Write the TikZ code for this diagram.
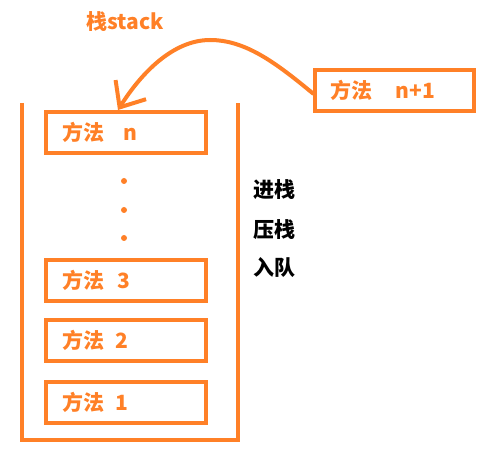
\documentclass[tikz,border=0pt]{standalone}
\usepackage{fontspec}
\setmainfont{Noto Sans CJK SC}
\usetikzlibrary{arrows.meta, positioning}
\definecolor{stackorange}{RGB}{255,128,39}

\begin{document}
\begin{tikzpicture}[
    x=1pt, y=-1pt,
    frame/.style={draw=stackorange, line width=4pt},
    method/.style={frame, minimum width=160pt, minimum height=41pt,
                   text width=128pt, inner xsep=16pt, align=left,
                   text=stackorange, font=\fontsize{21}{24}\selectfont\bfseries},
    dotmark/.style={circle, fill=stackorange, inner sep=0pt, minimum size=6pt},
    note/.style={font=\fontsize{21}{24}\selectfont\bfseries, anchor=west},
    node distance=16pt
  ]
  \useasboundingbox (0,0) rectangle (490,449);
  % the stack
  \draw[frame] (21.5,103) |- (238,440) -- (238,103);
  \node[method] (m1) at (126,402.5) {方法\hspace{12pt}1};
  \node[method, above=17pt of m1] (m2) {方法\hspace{12pt}2};
  \node[method, above=15pt of m2] (m3) {方法\hspace{14pt}3};
  \node[method] (mn) at (126,132.5) {方法\hspace{20pt}n};
  \foreach \y [count=\i] in {181,210,238}
    \node[dotmark] (d\i) at (124,\y) {};

  % pushed method
  \node[method, minimum width=159pt, text width=129pt, inner xsep=15pt]
    (mnext) at (394.5,90.5) {方法\hspace{24pt}n+1};
  \coordinate (crest) at (210,40);
  \draw[frame, line cap=round, -{Straight Barb[length=21pt, width=36pt]}]
    ([yshift=-3pt]mnext.west) .. controls (275,62) and (245,40) .. (crest)
    .. controls (172,40) and (140,75) .. ([xshift=-8pt]mn.north);

  \node[text=stackorange, font=\fontsize{21}{24}\selectfont\bfseries]
    (title) at (125,22) {栈stack};
  \node[note] (push) at (250,190) {进栈};
  \node[note] (press) at (250,230) {压栈};
  \node[note] (enq) at (250,268) {入队};
\end{tikzpicture}
\end{document}
